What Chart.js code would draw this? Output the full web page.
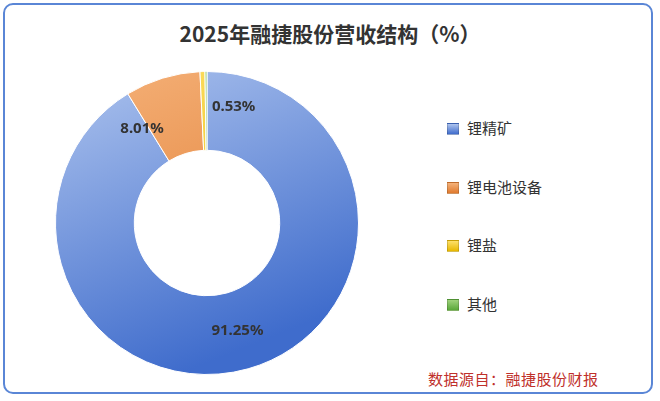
<!DOCTYPE html>
<html><head><meta charset="utf-8">
<script src="https://cdn.jsdelivr.net/npm/chart.js@4"></script>
<style>
body{margin:0;width:660px;height:401px;background:#fff;font-family:"Noto Sans CJK SC","Noto Sans",sans-serif;overflow:hidden}
#frame{position:absolute;left:3px;top:3px;width:650px;height:391px;border:2px solid #5a86d6;border-radius:10px;box-sizing:border-box}
#title{position:absolute;left:0;width:660px;top:18px;text-align:center;font-size:21px;font-weight:bold;color:#333}
#wrap{position:absolute;left:55px;top:71px;width:304px;height:304px}
#legend{position:absolute;left:447px;top:117px}
.li{height:58.5px;font-size:15px;color:#333;display:flex;align-items:flex-start}
.sw{width:10px;height:10px;margin:6px 8px 0 0;border:1px solid rgba(0,0,0,.15)}
#src{position:absolute;left:428px;top:368px;font-size:15px;color:#c0302b;letter-spacing:0.5px}
</style></head><body>
<div id="frame"></div>
<div id="title">2025年融捷股份营收结构（%）</div>
<div id="wrap"><canvas id="c"></canvas></div>
<div id="legend"></div>
<div id="src">数据源自：融捷股份财报</div>
<script>
const categories=["锂精矿","锂电池设备","锂盐","其他"];
const values=[91.25,8.01,0.53,0.21];
const labels=["91.25%","8.01%","0.53%",""];
const colorsLight=["#aec4ee","#f5b27a","#fde06a","#9ed27c"];
const colorsDark=["#3f6ccc","#e07a2e","#e8b800","#5aa83a"];
const lg=document.getElementById('legend');
categories.forEach((c,i)=>{lg.innerHTML+=`<div class="li"><div class="sw" style="background:linear-gradient(${colorsLight[i]},${colorsDark[i]})"></div>${c}</div>`});
const offs=[[0,0],[-32,13],[30,-4],[0,0]];
new Chart(document.getElementById('c'),{type:'doughnut',
data:{labels:categories,datasets:[{data:values,
backgroundColor:(ctx)=>{const ca=ctx.chart.chartArea;if(!ca)return colorsDark[ctx.dataIndex];
const g=ctx.chart.ctx.createLinearGradient(ca.left,ca.top,ca.left+ca.width*0.4,ca.bottom);
g.addColorStop(0,colorsLight[ctx.dataIndex]);g.addColorStop(1,colorsDark[ctx.dataIndex]);return g;},
borderColor:'#ffffff',borderWidth:1}]},
options:{responsive:true,maintainAspectRatio:false,animation:false,cutout:'48%',
plugins:{legend:{display:false},tooltip:{enabled:false}}},
plugins:[{id:'lbl',afterDatasetsDraw(ch){const c=ch.ctx;const m=ch.getDatasetMeta(0);
c.save();c.font='bold 15px "Noto Sans","DejaVu Sans",sans-serif';c.fillStyle='#333';c.textAlign='center';c.textBaseline='middle';
m.data.forEach((a,i)=>{if(!labels[i])return;const p=a.tooltipPosition();c.fillText(labels[i],p.x+offs[i][0],p.y+offs[i][1]);});
c.restore();}}]
});
</script></body></html>
